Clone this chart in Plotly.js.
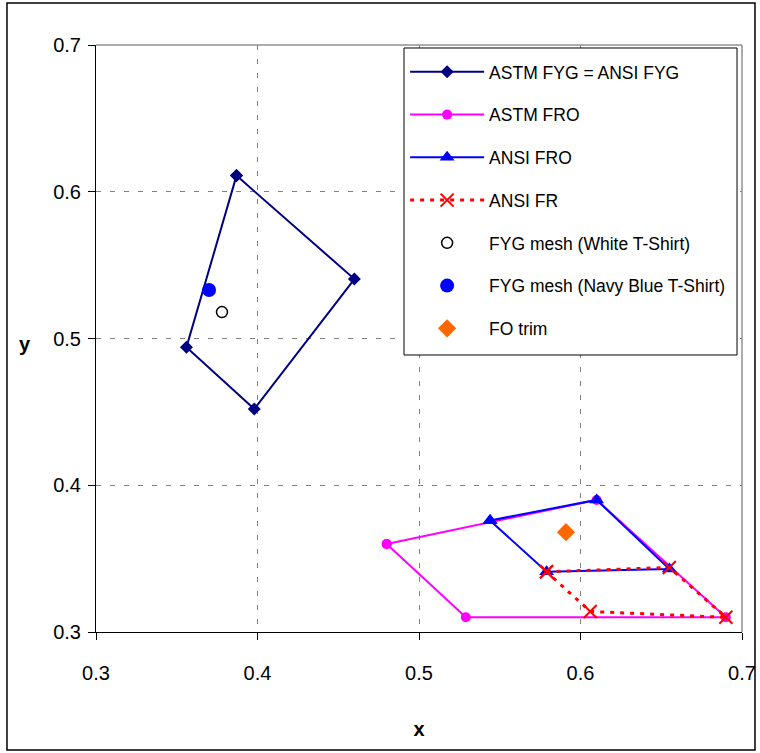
<!DOCTYPE html>
<html>
<head>
<meta charset="utf-8">
<script src="https://cdn.plot.ly/plotly-3.0.1.min.js"></script>
<style>html,body{margin:0;padding:0;background:#fff;}#chart{width:760px;height:753px;}</style>
</head>
<body>
<div id="chart"></div>
<script>
// Series names
const seriesNames = ["ASTM FYG = ANSI FYG", "ASTM FRO", "ANSI FRO", "ANSI FR",
  "FYG mesh (White T-Shirt)", "FYG mesh (Navy Blue T-Shirt)", "FO trim"];

// Chromaticity boundaries (closed polygons)
const fygX = [0.387, 0.460, 0.398, 0.356, 0.387];
const fygY = [0.611, 0.5405, 0.452, 0.494, 0.611];

const astmFroX = [0.480, 0.529, 0.690, 0.610, 0.480];
const astmFroY = [0.360, 0.310, 0.310, 0.390, 0.360];

const ansiFroX = [0.544, 0.610, 0.655, 0.579, 0.544];
const ansiFroY = [0.376, 0.390, 0.343, 0.341, 0.376];

const ansiFrX = [0.579, 0.655, 0.690, 0.606, 0.579];
const ansiFrY = [0.341, 0.344, 0.310, 0.314, 0.341];

// Measured samples
const whiteX = [0.378];
const whiteY = [0.518];
const navyX = [0.370];
const navyY = [0.533];
const foX = [0.591];
const foY = [0.368];

// Axis ticks
const xTicks = [0.3, 0.4, 0.5, 0.6, 0.7];
const xTickText = ["0.3", "0.4", "0.5", "0.6", "0.7"];
const yTicks = [0.3, 0.4, 0.5, 0.6, 0.7];
const yTickText = ["0.3", "0.4", "0.5", "0.6", "0.7"];

const traces = [
  {x: fygX, y: fygY, name: seriesNames[0], mode: "lines+markers", legendgroup: "g1",
   line: {color: "#000080", width: 2}, marker: {symbol: "diamond", size: 10, color: "#000080"}},
  {x: astmFroX, y: astmFroY, name: seriesNames[1], mode: "lines+markers", legendgroup: "g2",
   line: {color: "#FF00FF", width: 2}, marker: {symbol: "circle", size: 10, color: "#FF00FF"}},
  {x: ansiFroX, y: ansiFroY, name: seriesNames[2], mode: "lines+markers", legendgroup: "g3",
   line: {color: "#0000FF", width: 2}, marker: {symbol: "triangle-up", size: 13, color: "#0000FF"}},
  {x: ansiFrX, y: ansiFrY, name: seriesNames[3], mode: "lines+markers", legendgroup: "g4",
   line: {color: "#FF0000", width: 3, dash: "4px,6px"},
   marker: {symbol: "x-thin", size: 13, color: "#FF0000", line: {color: "#FF0000", width: 2}}},
  {x: whiteX, y: whiteY, name: seriesNames[4], mode: "markers", legendgroup: "g5",
   marker: {symbol: "circle-open", size: 11, color: "#000000", line: {color: "#000000", width: 1.5}}},
  {x: navyX, y: navyY, name: seriesNames[5], mode: "markers", legendgroup: "g6",
   marker: {symbol: "circle", size: 14, color: "#0000FF"}},
  {x: foX, y: foY, name: seriesNames[6], mode: "markers", legendgroup: "g7",
   marker: {symbol: "diamond", size: 14, color: "#FF6600"}}
];
traces.forEach(t => { t.cliponaxis = false; t.hoverinfo = "skip"; });

const font = "Liberation Sans, Arial, sans-serif";

const layout = {
  width: 760, height: 753,
  margin: {l: 96, r: 18, t: 45, b: 121},
  paper_bgcolor: "#ffffff", plot_bgcolor: "#ffffff",
  font: {family: font, color: "#000000", size: 20},
  showlegend: true,
  legend: {
    x: 0.4785, y: 0.9847, xanchor: "left", yanchor: "top",
    bgcolor: "rgba(0,0,0,0)", borderwidth: 0,
    font: {family: font, size: 17.5, color: "#000000"},
    traceorder: "grouped", tracegroupgap: 17, itemwidth: 74
  },
  xaxis: {
    range: [0.3, 0.7], tickvals: xTicks, ticktext: xTickText,
    showgrid: true, gridcolor: "#808080", gridwidth: 1, griddash: "5px,9px",
    zeroline: false, showline: true, linecolor: "#000000", linewidth: 1,
    ticks: "outside", ticklen: 7, tickcolor: "#000000", ticklabelstandoff: 16,
    tickfont: {family: font, size: 20, color: "#000000"},
    title: {text: "<b>x</b>", font: {family: font, size: 20, color: "#000000"}, standoff: 38}
  },
  yaxis: {
    range: [0.3, 0.7], tickvals: yTicks, ticktext: yTickText,
    showgrid: true, gridcolor: "#808080", gridwidth: 1, griddash: "5px,9px",
    zeroline: false, showline: true, linecolor: "#000000", linewidth: 1,
    ticks: "outside", ticklen: 7, tickcolor: "#000000", ticklabelstandoff: 3,
    tickfont: {family: font, size: 20, color: "#000000"}
  },
  annotations: [
    {text: "<b>y</b>", xref: "paper", yref: "paper", x: -0.110, y: 0.49,
     xanchor: "center", yanchor: "middle", showarrow: false,
     font: {family: font, size: 20, color: "#000000"}}
  ],
  shapes: [
    {type: "line", xref: "paper", yref: "paper", x0: 0, x1: 1, y0: 1, y1: 1,
     line: {color: "#909090", width: 1.5}},
    {type: "line", xref: "paper", yref: "paper", x0: 1, x1: 1, y0: 0, y1: 1,
     line: {color: "#909090", width: 1.5}},
    {type: "rect", xref: "paper", yref: "paper", x0: 0.4768, x1: 0.9923, y0: 0.4719, y1: 0.9949,
     fillcolor: "#ffffff", layer: "above", line: {color: "#000000", width: 1}},
    {type: "rect", xref: "paper", yref: "paper", x0: -0.1378, x1: 1.0201, y0: -0.201, y1: 1.0715,
     line: {color: "#000000", width: 1.5}}
  ]
};

Plotly.newPlot("chart", traces, layout, {displayModeBar: false, staticPlot: true});
</script>
</body>
</html>
